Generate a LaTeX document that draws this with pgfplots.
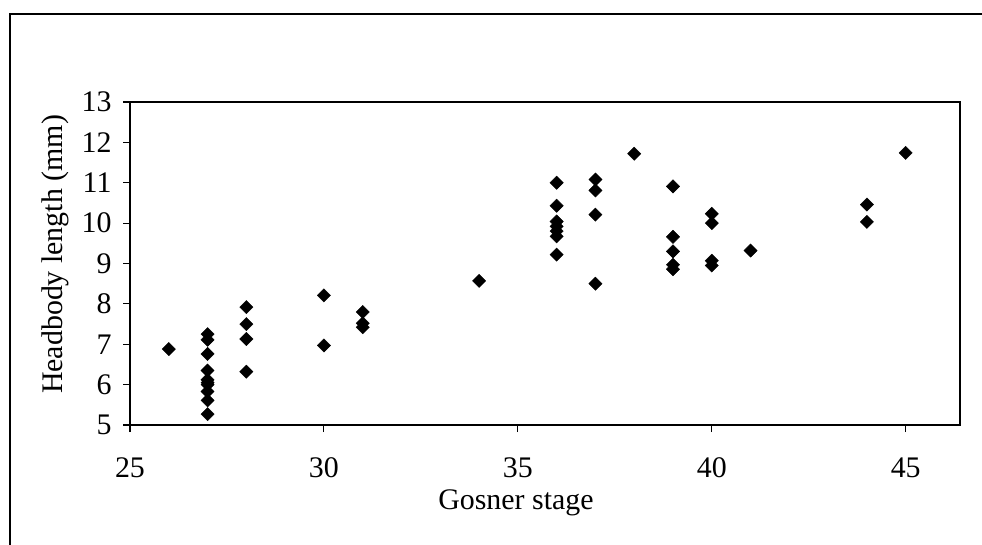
\documentclass[border=0pt]{standalone}
\usepackage{pgfplots}
\pgfplotsset{compat=1.18}
\usepackage{fontspec}
\setmainfont{Liberation Serif}
\newcommand{\chartfont}{\fontsize{30}{34}\selectfont}

\begin{document}
\begin{tikzpicture}
\useasboundingbox (0,0) rectangle (982bp,545bp);
% outer frame (left and top edges visible in the reference)
\draw[line width=1.5bp] (10bp,-5bp) -- (10bp,531bp) -- (990bp,531bp);
\begin{axis}[
	at={(130bp,120bp)}, anchor=south west,
	scale only axis,
	width=830bp, height=323bp,
	xmin=25, xmax=46.4,
	ymin=5, ymax=13,
	xtick={25,30,35,40,45},
	ytick={5,6,...,13},
	tick pos=left,
	tick align=outside,
	major tick length=7bp,
	axis line style={line width=1.3bp},
	every tick/.style={black, line width=1.1bp},
	tick label style={font=\chartfont},
	/pgf/number format/assume math mode=true,
	xticklabel style={anchor=center, yshift=-36bp},
	yticklabel style={anchor=east, xshift=-8bp},
	label style={font=\chartfont},
	xlabel={Gosner stage},
	ylabel={Headbody length (mm)},
	xlabel style={at={(axis description cs:0.465,-0.24)}, anchor=center},
	ylabel style={at={(axis description cs:-0.09,0.528)}, anchor=center},
]
\addplot[only marks, mark=square*, mark size=4.7pt,
	mark options={rotate=45, fill=black, draw=black}]
	coordinates {
	(26,6.88)
	(27,7.25) (27,7.11) (27,6.76) (27,6.35) (27,6.12) (27,6.05) (27,6.00) (27,5.83) (27,5.61) (27,5.27)
	(28,7.92) (28,7.50) (28,7.13) (28,6.32)
	(30,8.21) (30,6.97)
	(31,7.80) (31,7.52) (31,7.42)
	(34,8.57)
	(36,11.00) (36,10.43) (36,10.04) (36,9.92) (36,9.80) (36,9.67) (36,9.22)
	(37,11.08) (37,10.81) (37,10.21) (37,8.50)
	(38,11.72)
	(39,10.91) (39,9.66) (39,9.30) (39,8.97) (39,8.86)
	(40,10.23) (40,10.00) (40,9.07) (40,8.95)
	(41,9.32)
	(44,10.46) (44,10.03)
	(45,11.74)
	};
\end{axis}
\end{tikzpicture}
\end{document}
